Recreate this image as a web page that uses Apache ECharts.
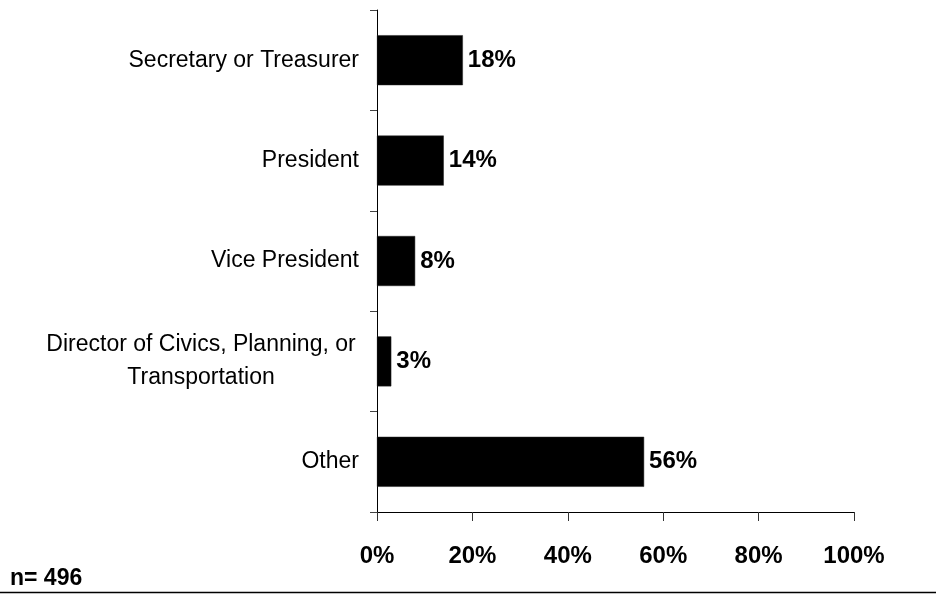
<!DOCTYPE html>
<html>
<head>
<meta charset="utf-8">
<script src="https://cdn.jsdelivr.net/npm/echarts@6/dist/echarts.min.js"></script>
<style>
  html, body { margin: 0; padding: 0; background: #fff; }
  #chart { width: 936px; height: 595px; }
</style>
</head>
<body>
<div id="chart"></div>
<script>
// Share of respondents by role
const categories = [
  'Secretary or Treasurer',
  'President',
  'Vice President',
  'Director of Civics, Planning, or\nTransportation',
  'Other'
];
const shares = [18, 14, 8, 3, 56];
const axisMin = 0;
const axisMax = 100;
const axisStep = 20;
const sampleNote = 'n= 496';

const labelFont = 'Liberation Sans, Arial, sans-serif';

const yData = categories.map(function (c) {
  if (c.indexOf('\n') >= 0) {
    return { value: c, textStyle: { align: 'center', padding: [0, 316, 0, 0], lineHeight: 33 } };
  }
  return c;
});

const chart = echarts.init(document.getElementById('chart'));
chart.setOption({
  animation: false,
  backgroundColor: '#fff',
  grid: { left: 377, right: 82, top: 10, bottom: 83, containLabel: false },
  xAxis: {
    type: 'value',
    min: axisMin,
    max: axisMax,
    interval: axisStep,
    splitLine: { show: false },
    axisLine: { show: true, lineStyle: { color: '#000', width: 1 } },
    axisTick: { show: true, length: 9, lineStyle: { color: '#333' } },
    axisLabel: {
      margin: 32,
      formatter: '{value}%',
      fontFamily: labelFont,
      fontWeight: 'bold',
      fontSize: 24,
      color: '#000'
    }
  },
  yAxis: {
    type: 'category',
    inverse: true,
    data: yData,
    axisLine: { show: true, lineStyle: { color: '#000', width: 1 } },
    axisTick: { show: true, length: 7, lineStyle: { color: '#444' } },
    axisLabel: {
      margin: 18,
      fontFamily: labelFont,
      fontSize: 23,
      color: '#000',
      interval: 0
    }
  },
  series: [{
    type: 'bar',
    data: shares,
    barWidth: 50,
    itemStyle: { color: '#000', borderColor: '#222', borderWidth: 0.5 },
    label: {
      show: true,
      position: 'right',
      distance: 5,
      formatter: '{c}%',
      fontFamily: labelFont,
      fontWeight: 'bold',
      fontSize: 24,
      color: '#000'
    }
  }],
  graphic: [
    {
      type: 'text',
      left: 10,
      top: 567,
      style: {
        text: sampleNote,
        fontFamily: labelFont,
        fontWeight: 'bold',
        fontSize: 23,
        fill: '#000'
      }
    },
    {
      type: 'line',
      shape: { x1: 0, y1: 592.5, x2: 936, y2: 592.5 },
      style: { stroke: '#000', lineWidth: 1.5 }
    }
  ]
});
</script>
</body>
</html>
